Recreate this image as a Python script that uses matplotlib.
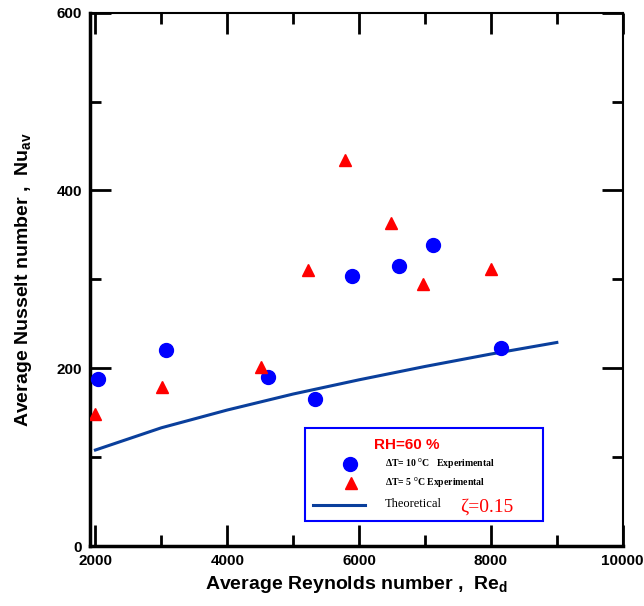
import matplotlib.pyplot as plt
from matplotlib.ticker import MultipleLocator
from matplotlib.patches import Rectangle
from matplotlib.lines import Line2D

# data
re_10 = [2035, 3067, 4615, 5334, 5900, 6608, 7119, 8156]
nu_10 = [188, 220, 190, 165, 304, 315, 339, 223]

re_5 = [2000, 3006, 4519, 5227, 5783, 6477, 6972, 7994]
nu_5 = [149, 179, 201, 311, 434, 363, 295, 312]

re_th = [2000, 3000, 4000, 5000, 6000, 7000, 8000, 9000]
nu_th = [108, 133, 153, 171, 187, 202, 216, 229]

x_ticks = [2000, 4000, 6000, 8000, 10000]
y_ticks = [0, 200, 400, 600]

plt.rcParams['font.family'] = ['Liberation Sans', 'DejaVu Sans']
plt.rcParams['mathtext.fontset'] = 'custom'
plt.rcParams['mathtext.rm'] = 'Liberation Sans'
plt.rcParams['mathtext.bf'] = 'Liberation Sans:bold'

serif = ['Liberation Serif', 'DejaVu Serif']

fig = plt.figure(figsize=(6.44, 6.06), dpi=100)
ax = fig.add_axes([0.140, 0.099, 0.827, 0.880])

ax.plot(re_th, nu_th, color='#0a3f9c', linewidth=2.2, zorder=2)
ax.plot(re_10, nu_10, 'o', color='#0000ff', markersize=10, zorder=3)
ax.plot(re_5, nu_5, '^', color='#ff0000', markersize=8, zorder=3)

ax.set_xlim(1920, 10000)
ax.set_ylim(0, 600)
ax.set_xticks(x_ticks)
ax.set_yticks(y_ticks)
ax.xaxis.set_minor_locator(MultipleLocator(1000))
ax.yaxis.set_minor_locator(MultipleLocator(100))
ax.tick_params(which='both', direction='in', top=True, right=True,
               labelsize=11, pad=6)
ax.tick_params(which='major', length=15, width=2)
ax.tick_params(which='minor', length=8, width=2)
for lab in ax.get_xticklabels() + ax.get_yticklabels():
    lab.set_fontweight('bold')

for s in ['left', 'bottom']:
    ax.spines[s].set_linewidth(2.5)
for s in ['top', 'right']:
    ax.spines[s].set_linewidth(1.5)

ax.set_xlabel(r'Average Reynolds number ,  Re$_{\mathbf{d}}$',
              fontsize=14, fontweight='bold', labelpad=4)
ax.set_ylabel(r'Average Nusselt number ,  Nu$_{\mathbf{av}}$',
              fontsize=14, fontweight='bold', labelpad=16)

# legend box drawn in axes fraction
box = Rectangle((0.403, 0.047), 0.447, 0.174, transform=ax.transAxes,
                fill=False, edgecolor='#0000ff', linewidth=1.5, zorder=4)
ax.add_patch(box)
ax.text(0.595, 0.19, 'RH=60 %', transform=ax.transAxes, color='#ff0000',
        fontsize=11, fontweight='bold', ha='center', va='center')
ax.plot([0.488], [0.154], 'o', color='#0000ff', markersize=10,
        transform=ax.transAxes)
ax.text(0.553, 0.154, u'\u0394T= 10 $^{\\rm o}$C   Experimental', transform=ax.transAxes,
        fontsize=7, fontweight='bold', family=serif, va='center')
ax.plot([0.49], [0.118], '^', color='#ff0000', markersize=8,
        transform=ax.transAxes)
ax.text(0.553, 0.118, u'\u0394T= 5 $^{\\rm o}$C Experimental', transform=ax.transAxes,
        fontsize=7, fontweight='bold', family=serif, va='center')
ax.add_line(Line2D([0.418, 0.516], [0.077, 0.077], transform=ax.transAxes,
                   color='#0a3f9c', linewidth=2.2))
ax.text(0.553, 0.078, 'Theoretical', transform=ax.transAxes,
        fontsize=9, family=serif, va='center')
ax.text(0.694, 0.073, u'\u03b6=0.15', transform=ax.transAxes, color='#ff0000',
        fontsize=14, family=serif, va='center')

plt.savefig('out.png', dpi=100)
